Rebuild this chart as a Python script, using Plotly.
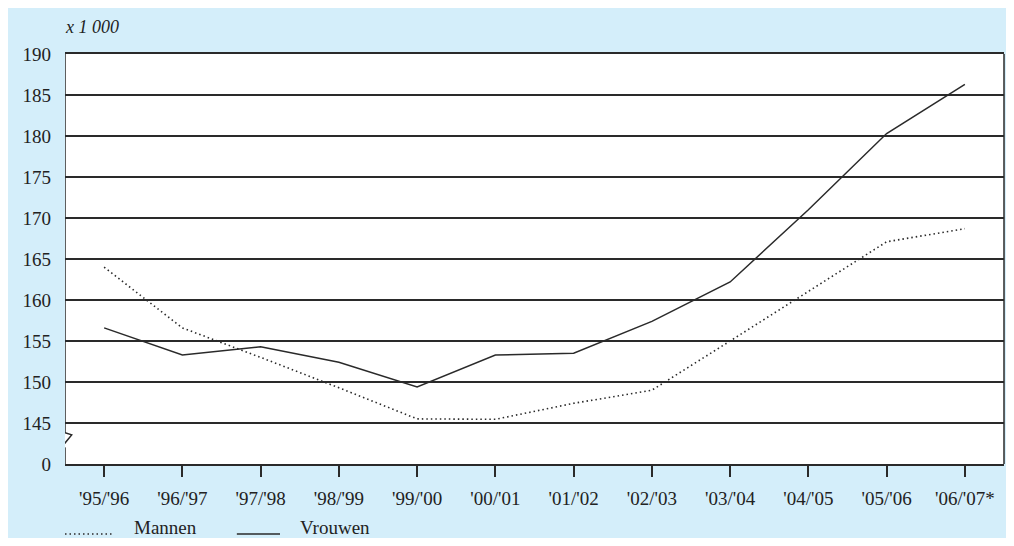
import plotly.graph_objects as go

# === DATA ===
jaren = ["'95/'96", "'96/'97", "'97/'98", "'98/'99", "'99/'00", "'00/'01",
         "'01/'02", "'02/'03", "'03/'04", "'04/'05", "'05/'06", "'06/'07*"]
mannen = [164.0, 156.6, 153.0, 149.3, 145.5, 145.45, 147.4, 149.0, 155.0, 161.0, 167.1, 168.7]
vrouwen = [156.6, 153.3, 154.3, 152.4, 149.4, 153.3, 153.5, 157.4, 162.2, 171.0, 180.3, 186.3]

# y-axis with a break: the "0" tick is drawn one step below 145
y_ticks = [140, 145, 150, 155, 160, 165, 170, 175, 180, 185, 190]
y_labels = ["0", "145", "150", "155", "160", "165", "170", "175", "180", "185", "190"]

# === STYLE ===
blauw = "#D4EEFA"
inkt = "#2a2a2a"
font = "Liberation Serif"
dots = "1.5px,3px"

fig = go.Figure()
fig.add_trace(go.Scatter(
    x=jaren, y=mannen, mode="lines", name="Mannen", showlegend=False,
    line=dict(color=inkt, width=1.6, dash=dots)
))
fig.add_trace(go.Scatter(
    x=jaren, y=vrouwen, mode="lines", name="Vrouwen", showlegend=False,
    line=dict(color=inkt, width=1.5)
))

# page has an 8px body margin, so the figure is kept inside the window
fig.update_layout(
    width=998, height=530,
    paper_bgcolor=blauw,
    plot_bgcolor="white",
    margin=dict(l=57, r=2, t=46, b=74),
    font=dict(family=font, size=19, color="#222"),
    xaxis=dict(
        type="category", range=[-0.5, 11.5],
        showgrid=False, zeroline=False,
        showline=True, mirror=True, linecolor=inkt, linewidth=1.5,
        ticks="outside", ticklen=11, tickwidth=1.5, tickcolor=inkt,
        ticklabelstandoff=5,
    ),
    yaxis=dict(
        range=[140, 190], tickvals=y_ticks, ticktext=y_labels,
        showgrid=True, gridcolor=inkt, gridwidth=1.5,
        zeroline=False, showline=False, ticks="",
        ticklabelstandoff=13,
    ),
)

# frame: right side and left side with the axis break zigzag
fig.add_shape(type="line", xref="paper", yref="paper", x0=1, x1=1, y0=0, y1=1,
              line=dict(color=inkt, width=1.5))
fig.add_shape(
    type="path", xref="x", yref="y", xsizemode="pixel", xanchor=-0.5,
    path="M0,190 L0,143.83 L6.7,143.55 L-5.7,141.73 L0,141.92 L0,140",
    line=dict(color=inkt, width=1.5),
)

fig.add_annotation(
    text="<i>x 1 000</i>", xref="paper", yref="paper",
    x=0.0, y=1.066, xanchor="left", yanchor="middle", xshift=-2,
    showarrow=False, font=dict(size=18, color="#222"),
)

# legend drawn by hand below the axis (sample line + label)
legend_items = [("Mannen", dots, 0.0, 0.050, 0.0714),
                ("Vrouwen", "solid", 0.183, 0.229, 0.248)]
for naam, stijl, s0, s1, tx in legend_items:
    fig.add_shape(type="line", xref="paper", yref="paper",
                  x0=s0, x1=s1, y0=-0.171, y1=-0.171,
                  line=dict(color=inkt, width=1.5, dash=stijl))
    fig.add_annotation(text=naam, xref="paper", yref="paper",
                       x=tx, y=-0.156, xanchor="left", yanchor="middle",
                       showarrow=False, font=dict(size=19, color="#222"))

fig.write_html("out.html")
